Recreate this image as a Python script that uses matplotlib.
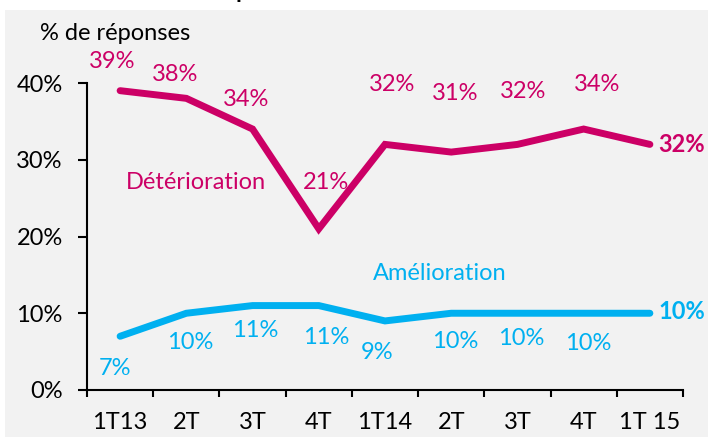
import numpy as np
import matplotlib
matplotlib.use("Agg")
from matplotlib import pyplot as plt
from matplotlib.patches import Rectangle

# data
quarters = ["1T13", "2T", "3T", "4T", "1T14", "2T", "3T", "4T", "1T 15"]
deterioration = [39, 38, 34, 21, 32, 31, 32, 34, 32]
amelioration = [7, 10, 11, 11, 9, 10, 10, 10, 10]
yticks = [0, 10, 20, 30, 40]

# label offsets in points (dx, dy), last point labelled on the right
det_off = [(-6, 21), (-8, 17), (-5, 21), (5, 33), (5, 43), (3, 42), (4, 38), (10, 32)]
ame_off = [(-4, -23), (3, -21), (2, -18), (5, -23), (-6, -23), (3, -20), (3, -18), (3, -22)]

pink = "#cc0066"
blue = "#00b0f0"
fs = 17

plt.rcParams["font.family"] = ["Lato", "DejaVu Sans"]

fig = plt.figure(figsize=(7.08, 4.37), dpi=100)
fig.patch.set_facecolor("white")
bg = Rectangle((5 / 708, 0), 1, 1 - 10 / 437, transform=fig.transFigure,
               facecolor="#f2f2f2", edgecolor="none", zorder=-5)
fig.patches.append(bg)
fig.text(0.487, 1 + 2 / 437, "Opinion sur la trésorerie", ha="center", va="baseline",
         fontsize=fs, fontweight="bold", color="black", zorder=-4)

ax = fig.add_axes([87 / 708, 47 / 437, 596 / 708, 307 / 437])
ax.set_facecolor("none")
ax.set_zorder(2)

x = np.arange(len(quarters))
ax.plot(x, deterioration, color=pink, lw=5, solid_capstyle="round", solid_joinstyle="miter", zorder=3)
ax.plot(x, amelioration, color=blue, lw=5, solid_capstyle="round", solid_joinstyle="miter", zorder=3)

for i in range(len(x) - 1):
    ax.annotate(f"{deterioration[i]}%", (x[i], deterioration[i]), xytext=det_off[i],
                textcoords="offset points", ha="center", va="center", color=pink,
                fontsize=fs, annotation_clip=False)
    ax.annotate(f"{amelioration[i]}%", (x[i], amelioration[i]), xytext=ame_off[i],
                textcoords="offset points", ha="center", va="center", color=blue,
                fontsize=fs, annotation_clip=False)
ax.annotate(f"{deterioration[-1]}%", (x[-1], deterioration[-1]), xytext=(6, 0),
            textcoords="offset points", ha="left", va="center", color=pink,
            fontsize=fs, fontweight="bold", annotation_clip=False)
ax.annotate(f"{amelioration[-1]}%", (x[-1], amelioration[-1]), xytext=(6, 1),
            textcoords="offset points", ha="left", va="center", color=blue,
            fontsize=fs, fontweight="bold", annotation_clip=False)

ax.text(1.15, 27, "Détérioration", color=pink, fontsize=fs, ha="center", va="center")
ax.text(4.83, 15.2, "Amélioration", color=blue, fontsize=fs, ha="center", va="center")

ax.set_xlim(-0.5, len(quarters) - 0.5)
ax.set_ylim(0, 40)
ax.set_yticks(yticks)
ax.set_yticklabels([f"{v}%" for v in yticks])
ax.set_xticks(np.arange(len(quarters) + 1) - 0.5, minor=False)
ax.set_xticklabels([])
ax.set_xticks(x, minor=True)
ax.set_xticklabels(quarters, minor=True)
ax.tick_params(axis="x", which="major", direction="out", length=5, width=1.5, color="black")
ax.tick_params(axis="x", which="minor", length=0, pad=16, labelsize=fs)
ax.tick_params(axis="y", direction="out", length=6.5, width=1.5, labelsize=fs, pad=11)

for s in ["top", "right"]:
    ax.spines[s].set_visible(False)
for s in ["left", "bottom"]:
    ax.spines[s].set_linewidth(1.5)
    ax.spines[s].set_color("black")

fig.text(40 / 708, 1 - 33 / 437, "% de réponses", ha="left", va="center", fontsize=fs)

fig.savefig("out.png", dpi=100, facecolor=fig.get_facecolor())
